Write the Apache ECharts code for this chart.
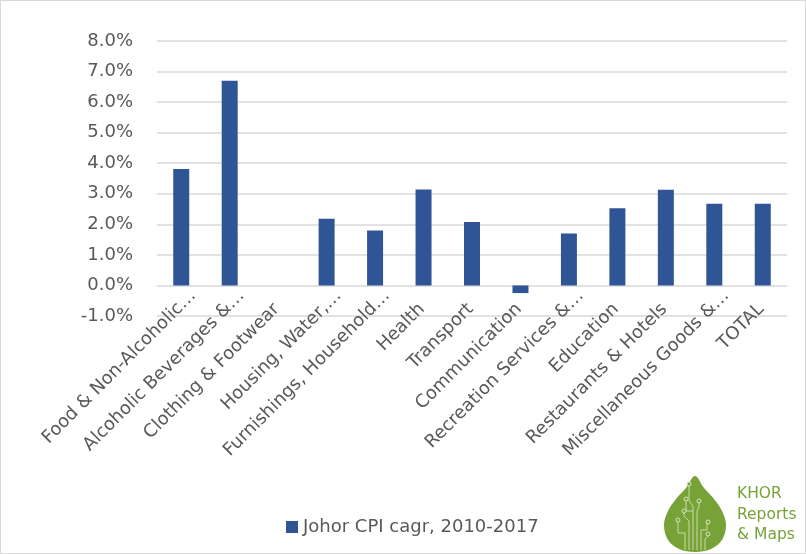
<!DOCTYPE html>
<html>
<head>
<meta charset="utf-8">
<script src="https://cdn.jsdelivr.net/npm/echarts@6/dist/echarts.min.js"></script>
<style>
html,body{margin:0;padding:0;background:#fff;}
#c{width:804px;height:552px;border:1px solid #d9d9d9;}
</style>
</head>
<body>
<div id="c"></div>
<script>
const categories = ["Food & Non-Alcoholic…","Alcoholic Beverages &…","Clothing & Footwear","Housing, Water,…","Furnishings, Household…","Health","Transport","Communication","Recreation Services &…","Education","Restaurants & Hotels","Miscellaneous Goods &…","TOTAL"];
const values = [3.81, 6.70, 0, 2.18, 1.80, 3.14, 2.08, -0.25, 1.70, 2.53, 3.13, 2.67, 2.67];
const seriesName = "Johor CPI cagr, 2010-2017";
const yMin = -1, yMax = 8, yStep = 1;

const FONT = "DejaVu Sans";
const TXT = '#595959';
const chart = echarts.init(document.getElementById('c'));
const green = '#77a237';
const line = '#c8dca6';
function pl(points){ return {type:'polyline', shape:{points:points}, style:{stroke:line,fill:null,lineWidth:1}, z:101}; }
function dot(x,y){ return {type:'circle', shape:{cx:x,cy:y,r:2}, style:{stroke:'#d8e6c0',fill:green,lineWidth:1}, z:102}; }
const labelStyle = {rotate:45, color:TXT, fontSize:18, margin:-25, padding:[34,0,0,0], interval:0, fontFamily:FONT,
  formatter:v=> v.endsWith('…') ? '{t|'+v+'}' : '{n|'+v+'}',
  rich:{
    t:{color:TXT,fontSize:18,fontFamily:FONT},
    n:{color:TXT,fontSize:18,fontFamily:FONT,padding:[0,19,0,0]}
  }
};
chart.setOption({
  animation:false,
  textStyle:{fontFamily:FONT},
  grid:[
    {left:156,right:18,top:40,bottom:237,containLabel:false},
    {left:156,right:18,top:40,bottom:247,containLabel:false}
  ],
  legend:{
    data:[seriesName], top:511, left:280,
    itemWidth:12, itemHeight:12, itemGap:8,
    icon:'rect',
    textStyle:{color:TXT,fontSize:18,lineHeight:20,fontFamily:FONT}
  },
  xAxis:[
    {type:'category', data:categories, gridIndex:0,
     axisLine:{show:false, onZero:false}, axisTick:{show:false}, axisLabel:{show:false}},
    {type:'category', data:categories, gridIndex:1,
     axisLine:{show:false, onZero:false}, axisTick:{show:false}, splitLine:{show:false},
     axisLabel:labelStyle}
  ],
  yAxis:[
    {type:'value', min:yMin, max:yMax, interval:yStep, gridIndex:0,
    axisLine:{show:false}, axisTick:{show:false},
    axisLabel:{color:TXT, fontSize:18, margin:24, fontFamily:FONT,
      formatter:v=>v.toFixed(1)+'%'},
    splitLine:{lineStyle:{color:'#d9d9d9',width:1.5}}},
    {type:'value', min:yMin, max:yMax, interval:yStep, gridIndex:1, show:false}
  ],
  series:[{
    name:seriesName, type:'bar', data:values, barWidth:'33%',
    xAxisIndex:0, yAxisIndex:0,
    itemStyle:{color:'#2f5597'}
  }],
  graphic:[
    {type:'polygon', z:100, shape:{smooth:0.35, points:[[694,475],[703,487],[713,498],[721,510],[725,524],[721,539],[710,548],[694,551],[678,548],[667,539],[663,524],[667,510],[675,498],[685,487]]}, style:{fill:green}},
    pl([[692,549],[692,505],[688,500],[688,485]]),
    pl([[696,549],[696,510],[698,506],[698,502]]),
    pl([[688,549],[688,520],[683,515],[683,512]]),
    pl([[684,549],[684,532],[677,532],[677,521]]),
    pl([[700,549],[700,529],[706,529],[706,523]]),
    pl([[704,549],[704,538],[707,535]]),
    pl([[692,510],[685,510],[685,500]]),
    dot(688,483), dot(685,498), dot(698,500), dot(683,510), dot(677,519), dot(707,521), dot(707,533),
    {type:'text', left:736, top:483, z:100, style:{text:'KHOR\nReports\n& Maps', fill:green, fontSize:15.5, lineHeight:20.5, fontFamily:FONT}}
  ]
});
</script>
</body>
</html>
